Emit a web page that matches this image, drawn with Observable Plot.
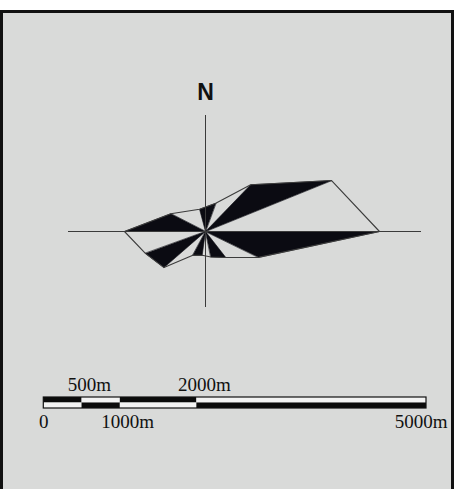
<!DOCTYPE html>
<html>
<head>
<meta charset="utf-8">
<script src="https://cdn.jsdelivr.net/npm/d3@7"></script>
<script src="https://cdn.jsdelivr.net/npm/@observablehq/plot@0.6"></script>
<style>
  html, body { margin: 0; padding: 0; background: #fff; }
  #fig { position: relative; width: 456px; height: 489px; overflow: hidden; background: #fff; }
  #frame { position: absolute; left: 0; top: 10px; width: 448px; height: 490px; border: 3px solid #111; background: #d9dad9; }
  #rose, #bar { position: absolute; left: 0; }
  #rose { top: 0; }
  #bar { top: 370px; }
  #fig svg { background: transparent !important; overflow: visible; }
</style>
</head>
<body>
<div id="fig">
  <div id="frame"></div>
  <div id="rose"></div>
  <div id="bar"></div>
</div>
<script>
// Rose diagram: azimuth of each vertex (degrees from north, clockwise) and its length
const azimuth = [345, 20, 44, 68, 90, 116, 142, 168, 188, 208, 229, 250, 270, 297];
const length  = [2.3, 3.0, 6.5, 13.6, 17.4, 5.9, 3.3, 2.6, 2.4, 2.7, 5.5, 6.4, 8.1, 3.9];

// Scale bar
const barTicks = [0, 500, 1000, 2000, 5000];
const labelsAbove = [500, 2000];
const labelsBelow = [0, 1000, 5000];
const northLabel = "N";

const toXY = (a, r) => ({x: r * Math.sin(a * Math.PI / 180), y: r * Math.cos(a * Math.PI / 180)});
const verts = azimuth.map((a, i) => ({...toXY(a, length[i]), i}));
const tris = [];
verts.forEach((v, i) => {
  const w = verts[(i + 1) % verts.length];
  tris.push({x: 0, y: 0, id: i}, {x: v.x, y: v.y, id: i}, {x: w.x, y: w.y, id: i});
});

const reach = {north: 11.6, south: 7.6, west: 13.7, east: 21.6};

const rose = Plot.plot({
  width: 456, height: 340, margin: 0,
  style: "background: transparent; overflow: visible;",
  x: {domain: [-20.5, 25.1], axis: null},
  y: {domain: [-10.9, 23.1], axis: null},
  marks: [
    Plot.line(tris, {x: "x", y: "y", z: "id", filter: d => d.id % 2 === 0,
      fill: "#0b0b12", stroke: "#0b0b12", strokeWidth: 0.6, curve: "linear-closed"}),
    Plot.line(verts, {x: "x", y: "y", stroke: "#3c3c3c", strokeWidth: 1.1, curve: "linear-closed"}),
    Plot.ruleX([0], {y1: -reach.south, y2: reach.north, stroke: "#3a3a3a", strokeWidth: 1}),
    Plot.ruleY([0], {x1: -reach.west, x2: reach.east, stroke: "#3a3a3a", strokeWidth: 1}),
    Plot.text([northLabel], {x: 0, y: reach.north + 1.6, text: d => d, lineAnchor: "bottom",
      fontSize: 23, fontWeight: "bold", fontFamily: "Liberation Sans, Arial, sans-serif", fill: "#111"})
  ]
});
document.getElementById("rose").appendChild(rose);

const segs = [];
for (let i = 0; i < barTicks.length - 1; i++) {
  segs.push({x1: barTicks[i], x2: barTicks[i + 1], y1: 1, y2: 2, dark: i % 2 === 0});
  segs.push({x1: barTicks[i], x2: barTicks[i + 1], y1: 0, y2: 1, dark: i % 2 === 1});
}
const fs = 19;
const serif = "Liberation Serif, Times New Roman, serif";
const lastTick = barTicks[barTicks.length - 1];

const bar = Plot.plot({
  width: 456, height: 70, margin: 0,
  style: "background: transparent; overflow: visible;",
  x: {domain: [barTicks[0], lastTick], range: [43.3, 426], axis: null},
  y: {domain: [0, 2], range: [38, 27], axis: null},
  marks: [
    Plot.rect(segs, {x1: "x1", x2: "x2", y1: "y1", y2: "y2", fill: d => d.dark ? "#0b0b0b" : "#f3f3f3"}),
    Plot.rect([barTicks], {x1: d => d[0], x2: d => d[d.length - 1], y1: 0, y2: 2, fill: "none", stroke: "#111", strokeWidth: 1.2}),
    ...labelsAbove.map(v => Plot.text([v], {x: d => d, y: 2, text: d => `${d}m`, textAnchor: "start",
      dx: -String(v).length * fs * 0.25, dy: -7, lineAnchor: "bottom", fontSize: fs, fontFamily: serif, fill: "#111"})),
    ...labelsBelow.map(v => Plot.text([v], {x: d => d, y: 0, text: d => v === 0 ? "0" : `${d}m`,
      textAnchor: v === 0 ? "middle" : v === lastTick ? "end" : "start",
      dx: v === 0 ? 0 : v === lastTick ? 21 : -String(v).length * fs * 0.25,
      dy: 19, lineAnchor: "bottom", fontSize: fs, fontFamily: serif, fill: "#111"}))
  ]
});
document.getElementById("bar").appendChild(bar);
</script>
</body>
</html>
